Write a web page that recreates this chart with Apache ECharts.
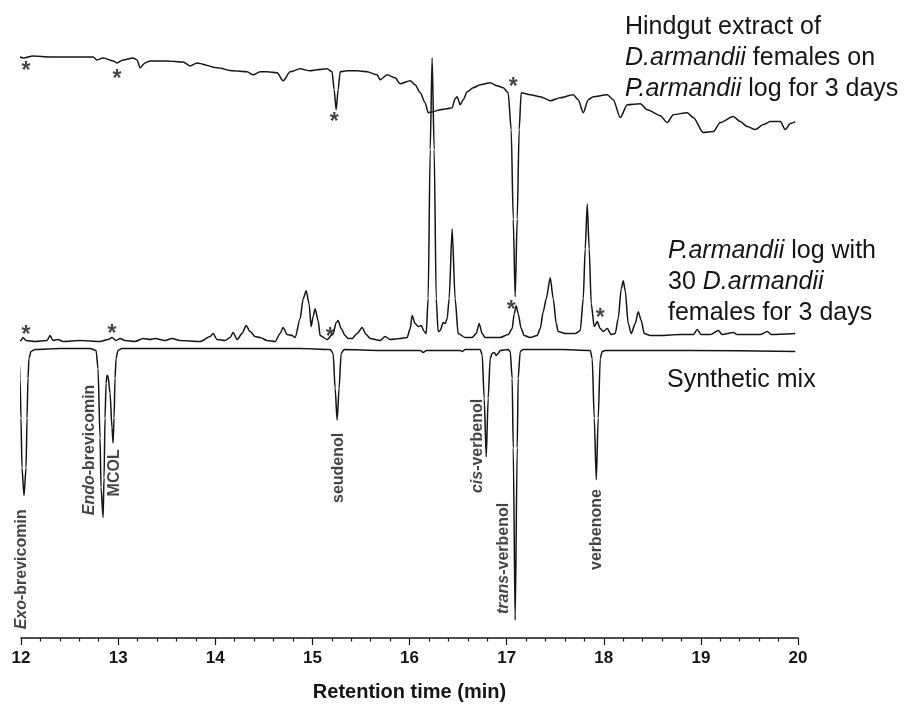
<!DOCTYPE html>
<html>
  <head>
    <meta charset="utf-8" />
    <title>GC traces</title>
    <script src="https://cdn.jsdelivr.net/npm/echarts@6/dist/echarts.min.js"></script>
    <style>
      * {
        margin: 0;
        padding: 0;
      }
      html,
      body,
      #container {
        width: 100%;
        height: 100%;
        background: #fff;
      }
    </style>
  </head>
  <body>
    <div id="container"></div>
    <script>
      // retention time (min), detector response (arbitrary units, traces stacked)
      const hindgut = [
        [11.959, 585], [12.021, 583], [12.124, 585], [12.299, 584], [12.474, 584], [12.742, 584],
        [12.783, 581], [12.845, 583], [12.948, 580], [12.989, 578], [13.051, 581], [13.154, 583],
        [13.195, 581], [13.226, 573], [13.277, 578], [13.329, 580], [13.504, 580], [13.669, 579],
        [13.741, 575], [13.813, 578], [14.019, 573], [14.184, 570], [14.328, 569], [14.39, 566],
        [14.462, 569], [14.534, 569], [14.637, 568], [14.699, 560], [14.771, 569], [14.874, 572],
        [14.977, 570], [15.049, 571], [15.152, 572], [15.203, 569], [15.224, 551], [15.245, 531],
        [15.265, 551], [15.286, 569], [15.358, 570], [15.461, 570], [15.564, 569], [15.667, 566],
        [15.698, 561], [15.77, 566], [15.852, 563], [15.904, 557], [16.007, 560], [16.058, 556],
        [16.11, 548], [16.161, 538], [16.192, 528], [16.244, 529], [16.316, 531], [16.388, 532],
        [16.439, 533], [16.47, 542], [16.491, 544], [16.522, 536], [16.553, 541], [16.594, 549],
        [16.656, 553], [16.728, 556], [16.831, 558], [16.903, 555], [16.965, 553], [17.016, 548],
        [17.047, 511], [17.068, 421], [17.088, 343], [17.109, 421], [17.129, 511], [17.15, 548],
        [17.243, 546], [17.346, 544], [17.449, 540], [17.552, 543], [17.686, 546], [17.737, 541],
        [17.789, 528], [17.84, 541], [17.892, 544], [18.036, 546], [18.098, 541], [18.17, 523],
        [18.242, 536], [18.376, 537], [18.448, 531], [18.582, 525], [18.654, 518], [18.716, 526],
        [18.86, 528], [18.922, 523], [19.025, 508], [19.128, 509], [19.2, 518], [19.334, 524],
        [19.406, 519], [19.478, 514], [19.56, 511], [19.643, 516], [19.715, 519], [19.818, 519],
        [19.869, 511], [19.921, 517], [19.972, 519]
      ];

      const logVolatiles = [
        [11.969, 298], [12.0, 299], [12.021, 302], [12.052, 299], [12.144, 298], [12.268, 299],
        [12.299, 304], [12.33, 299], [12.381, 300], [12.433, 298], [12.608, 299], [12.814, 298],
        [12.896, 300], [12.937, 302], [12.979, 299], [13.02, 301], [13.071, 299], [13.174, 298],
        [13.257, 301], [13.329, 300], [13.38, 301], [13.483, 299], [13.555, 301], [13.638, 299],
        [13.844, 298], [13.947, 303], [13.978, 306], [14.019, 300], [14.101, 299], [14.153, 302],
        [14.184, 307], [14.225, 300], [14.276, 306], [14.318, 314], [14.359, 308], [14.41, 303],
        [14.462, 302], [14.534, 299], [14.616, 298], [14.668, 306], [14.699, 312], [14.74, 305],
        [14.791, 304], [14.822, 302], [14.874, 321], [14.905, 341], [14.936, 349], [14.966, 336],
        [14.987, 313], [15.008, 323], [15.028, 331], [15.059, 319], [15.08, 304], [15.152, 300],
        [15.214, 306], [15.245, 317], [15.265, 319], [15.296, 311], [15.337, 304], [15.368, 301],
        [15.409, 301], [15.461, 306], [15.512, 312], [15.554, 305], [15.595, 301], [15.698, 299],
        [15.749, 303], [15.801, 300], [15.904, 301], [15.976, 302], [16.007, 311], [16.027, 324],
        [16.058, 316], [16.089, 313], [16.12, 314], [16.151, 308], [16.172, 306], [16.192, 341],
        [16.213, 491], [16.233, 583], [16.254, 491], [16.275, 341], [16.295, 308], [16.316, 309],
        [16.347, 317], [16.367, 316], [16.388, 321], [16.408, 341], [16.439, 411], [16.47, 341],
        [16.501, 306], [16.573, 302], [16.645, 302], [16.687, 306], [16.717, 316], [16.748, 306],
        [16.779, 302], [16.934, 302], [17.016, 305], [17.057, 311], [17.078, 326], [17.099, 334],
        [17.119, 326], [17.15, 311], [17.181, 304], [17.243, 302], [17.315, 304], [17.346, 311],
        [17.377, 328], [17.408, 341], [17.449, 362], [17.48, 341], [17.511, 316], [17.531, 308],
        [17.603, 306], [17.706, 306], [17.758, 309], [17.789, 341], [17.809, 391], [17.83, 436],
        [17.85, 391], [17.871, 336], [17.902, 313], [17.933, 318], [17.964, 311], [17.995, 308],
        [18.036, 311], [18.077, 305], [18.118, 306], [18.149, 321], [18.18, 351], [18.201, 359],
        [18.221, 349], [18.252, 316], [18.283, 306], [18.324, 316], [18.355, 328], [18.386, 319],
        [18.417, 306], [18.479, 304], [18.582, 304], [18.788, 305], [18.922, 305], [18.963, 310],
        [19.004, 305], [19.097, 305], [19.179, 309], [19.22, 305], [19.334, 307], [19.375, 305],
        [19.612, 305], [19.684, 308], [19.725, 305], [19.972, 306]
      ];

      // synthetic mix is drawn inverted (peaks point down)
      const syntheticMix = [
        [11.959, 290], [11.979, 281], [11.99, 261], [12.0, 221], [12.01, 171], [12.031, 143],
        [12.052, 171], [12.062, 221], [12.072, 261], [12.082, 281], [12.103, 288], [12.144, 290],
        [12.402, 291], [12.711, 291], [12.773, 289], [12.793, 271], [12.814, 201], [12.824, 151],
        [12.845, 121], [12.855, 161], [12.865, 221], [12.876, 256], [12.886, 264], [12.896, 263],
        [12.917, 246], [12.937, 211], [12.948, 196], [12.958, 221], [12.968, 261], [12.979, 281],
        [12.999, 289], [13.04, 291], [13.844, 291], [14.874, 291], [15.183, 290], [15.214, 286],
        [15.234, 251], [15.255, 219], [15.275, 251], [15.296, 286], [15.327, 290], [15.698, 289],
        [16.11, 289], [16.141, 287], [16.172, 289], [16.522, 289], [16.542, 288], [16.573, 290],
        [16.728, 290], [16.748, 285], [16.769, 241], [16.79, 182], [16.81, 241], [16.831, 281],
        [16.851, 286], [16.872, 287], [16.893, 284], [16.913, 286], [16.934, 289], [17.016, 290],
        [17.037, 288], [17.057, 261], [17.068, 191], [17.088, 18], [17.109, 191], [17.119, 261],
        [17.14, 288], [17.171, 290], [17.552, 290], [17.861, 289], [17.881, 281], [17.902, 221],
        [17.923, 159], [17.943, 221], [17.964, 281], [17.984, 288], [18.015, 289], [18.891, 289],
        [19.972, 288]
      ];

      // asterisks marking compounds shared with the synthetic mix
      const starMarks = [
        [12.052, 574], [12.989, 566], [15.224, 523], [17.068, 558],
        [12.052, 309], [12.937, 310], [15.183, 307], [17.047, 334], [17.964, 326]
      ];

      const compoundNames = [
        '{i|Exo}-brevicomin', '{i|Endo}-brevicomin', 'MCOL', 'seudenol',
        '{i|cis}-verbenol', '{i|trans}-verbenol', 'verbenone'
      ];
      const compoundLabelPos = [
        [12.01, 69], [12.711, 189], [12.968, 166], [15.265, 171],
        [16.697, 193], [16.965, 80], [17.923, 109]
      ];

      const xTicks = [12, 13, 14, 15, 16, 17, 18, 19, 20];

      const FONT = "'Liberation Sans', Arial, Helvetica, sans-serif";
      const INK = '#151515';

      const chartDom = document.getElementById('container');
      const myChart = echarts.init(chartDom, null, { renderer: 'canvas' });

      const traceStyle = {
        type: 'line',
        showSymbol: false,
        symbol: 'none',
        smooth: 0.25,
        smoothMonotone: 'x',
        clip: false,
        silent: true,
        lineStyle: { color: INK, width: 1.5 }
      };

      const bigText = { fontFamily: FONT, fontSize: 25, lineHeight: 31, color: INK };

      myChart.setOption({
        animation: false,
        backgroundColor: '#fff',
        grid: { left: 21, right: 111, top: 41, bottom: 66 },
        xAxis: {
          type: 'value',
          min: xTicks[0],
          max: xTicks[xTicks.length - 1],
          interval: 1,
          axisLine: { show: true, onZero: false, lineStyle: { color: INK, width: 1.5 } },
          axisTick: { show: true, length: 7, lineStyle: { color: INK, width: 1.2 } },
          minorTick: { show: true, splitNumber: 5, length: 3.5, lineStyle: { color: INK, width: 1.2 } },
          splitLine: { show: false },
          axisLabel: {
            fontFamily: FONT,
            fontWeight: 'bold',
            fontSize: 17,
            color: INK,
            margin: 12
          },
          name: 'Retention time (min)',
          nameLocation: 'middle',
          nameGap: 44,
          nameTextStyle: { fontFamily: FONT, fontWeight: 'bold', fontSize: 20, color: INK }
        },
        yAxis: { type: 'value', min: 0, max: 600, show: false },
        series: [
          Object.assign({ name: 'Hindgut', data: hindgut }, traceStyle),
          Object.assign({ name: 'Log', data: logVolatiles }, traceStyle),
          Object.assign({ name: 'Synthetic', data: syntheticMix }, traceStyle),
          {
            type: 'scatter',
            symbolSize: 0,
            silent: true,
            data: starMarks,
            label: {
              show: true,
              position: 'inside',
              formatter: '*',
              fontFamily: FONT,
              fontWeight: 'bold',
              fontSize: 23,
              color: INK,
              offset: [0, 5]
            }
          },
          {
            type: 'scatter',
            symbolSize: 0,
            silent: true,
            data: compoundLabelPos.map((p, i) => [p[0], p[1], compoundNames[i]]),
            label: {
              show: true,
              position: 'inside',
              rotate: 90,
              formatter: (p) => p.data[2],
              fontFamily: FONT,
              fontWeight: 'bold',
              fontSize: 16,
              color: INK,
              rich: {
                i: { fontFamily: FONT, fontWeight: 'bold', fontStyle: 'italic', fontSize: 16, color: INK }
              }
            }
          }
        ],
        graphic: [
          {
            type: 'text',
            left: 625,
            top: 12,
            style: {
              text: 'Hindgut extract of\n{i|D.armandii} females on\n{i|P.armandii} log for 3 days',
              fill: INK,
              font: '25px ' + FONT,
              lineHeight: 31,
              rich: { i: Object.assign({ fontStyle: 'italic' }, bigText) }
            }
          },
          {
            type: 'text',
            left: 668,
            top: 236,
            style: {
              text: '{i|P.armandii} log with\n30 {i|D.armandii}\nfemales for 3 days',
              fill: INK,
              font: '25px ' + FONT,
              lineHeight: 31,
              rich: { i: Object.assign({ fontStyle: 'italic' }, bigText) }
            }
          },
          {
            type: 'text',
            left: 667,
            top: 365,
            style: {
              text: 'Synthetic mix',
              fill: INK,
              font: '25px ' + FONT,
              lineHeight: 31
            }
          }
        ]
      });
    </script>
  </body>
</html>
